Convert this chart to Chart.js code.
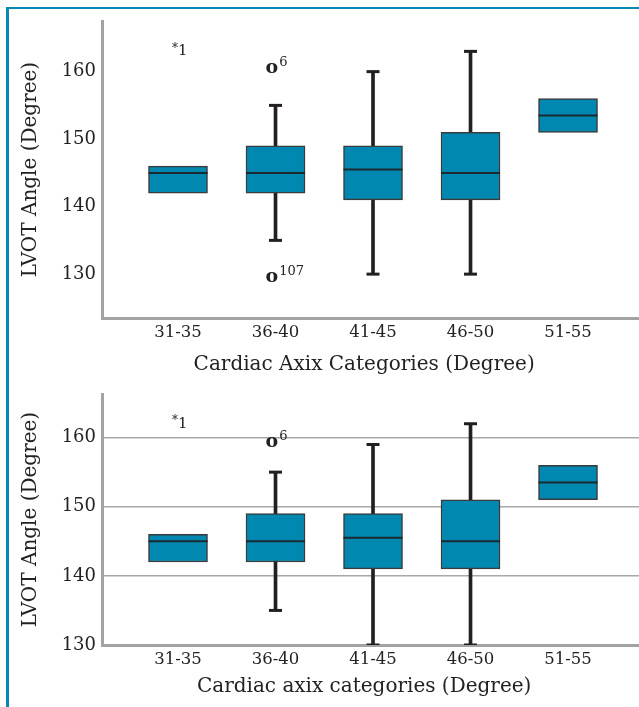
<!DOCTYPE html>
<html>
<head>
<meta charset="utf-8">
<script src="https://cdn.jsdelivr.net/npm/chart.js@4/dist/chart.umd.min.js"></script>
<style>
body{margin:0;background:#fff;width:639px;height:707px;overflow:hidden;position:relative}
#frame{position:absolute;left:6px;top:7px;right:0;bottom:0;border-left:3px solid #0a88b4;border-top:2px solid #0a88b4}
.box{position:absolute;left:0;width:639px}
</style>
</head>
<body>
<div id="frame"></div>
<div class="box" style="top:0;height:375px"><canvas id="c1"></canvas></div>
<div class="box" style="top:375px;height:332px"><canvas id="c2"></canvas></div>
<script>
// cardiac axis groups
var categories = ['31-35', '36-40', '41-45', '46-50', '51-55'];
var q1 = [142, 142, 141, 141, 151];
var median = [145, 145, 145.5, 145, 153.5];
var q3 = [146, 149, 149, 151, 156];
var whiskerLow = [null, 135, 130, 130, null];
var whiskerHigh1 = [null, 155, 160, 163, null];
var whiskerHigh2 = [null, 155, 159, 162, null];
var yTicks = [130, 140, 150, 160];

// labelled outliers (case numbers)
var outlierCat = ['31-35', '36-40', '36-40'];
var outlierValue1 = [163, 160.5, 129.5];
var outlierValue2 = [162, 159.3, 129.5];
var outlierMark = ['*', 'o', 'o'];
var outlierCase = ['1', '6', '107'];

var serif = "'DejaVu Serif', serif";

var outlierPlugin = {
    id: 'outliers',
    afterDatasetsDraw: function(chart, args, opts) {
        var ctx = chart.ctx;
        var xs = chart.scales.x, ys = chart.scales.y;
        var vals = opts.values;
        ctx.save();
        ctx.fillStyle = '#222';
        ctx.textBaseline = 'middle';
        ctx.textAlign = 'left';
        for (var i = 0; i < outlierCat.length; i++) {
            var v = vals[i];
            if (v < ys.min || v > ys.max) continue;
            var x = xs.getPixelForValue(categories.indexOf(outlierCat[i]) + 1) - 10;
            var y = ys.getPixelForValue(v);
            if (outlierMark[i] == 'o') {
                ctx.font = 'bold 19px ' + serif;
                ctx.fillText('o', x, y);
                x += ctx.measureText('o').width + 1;
                ctx.font = '13px ' + serif;
                ctx.fillText(outlierCase[i], x, y - 6);
            } else {
                ctx.font = '12px ' + serif;
                ctx.fillText('*', x + 4, y - 3);
                x += ctx.measureText('*').width + 4;
                ctx.font = '15px ' + serif;
                ctx.fillText(outlierCase[i], x, y);
            }
        }
        ctx.restore();
    }
};

function boxChart(id, whiskerHigh, outVals, yMin, yMax, showGrid, xTitle, padTop, xHeight, xTitlePad) {
    var whiskers = [], caps = [], boxes = [], medians = [];
    for (var i = 0; i < categories.length; i++) {
        boxes.push({x: i + 1, y: [q1[i], q3[i]]});
        medians.push({x: i + 1, y: median[i]});
        if (whiskerLow[i] != null) {
            whiskers.push({x: i + 1, y: [whiskerLow[i], whiskerHigh[i]]});
            caps.push({x: i + 1, y: whiskerLow[i]});
            caps.push({x: i + 1, y: whiskerHigh[i]});
        }
    }
    var ctx = document.getElementById(id).getContext('2d');
    return new Chart(ctx, {
        type: 'bar',
        data: {
            datasets: [
                {
                    data: whiskers,
                    backgroundColor: '#231f20',
                    barThickness: 3,
                    grouped: false,
                    order: 3
                },
                {
                    data: boxes,
                    backgroundColor: '#0088b1',
                    borderColor: '#3b3b3b',
                    borderWidth: 1.5,
                    borderSkipped: false,
                    barThickness: 59,
                    grouped: false,
                    order: 2
                },
                {
                    type: 'scatter',
                    data: caps,
                    pointStyle: 'line',
                    radius: 6.5,
                    borderWidth: 3,
                    borderColor: '#231f20',
                    order: 1
                },
                {
                    type: 'scatter',
                    data: medians,
                    pointStyle: 'line',
                    radius: 29.5,
                    borderWidth: 2,
                    borderColor: '#1b2a31',
                    order: 0
                }
            ]
        },
        options: {
            responsive: true,
            maintainAspectRatio: false,
            animation: false,
            layout: {autoPadding: false, padding: {top: padTop, left: 0, right: 0, bottom: 0}},
            plugins: {
                legend: {display: false},
                tooltip: {enabled: false},
                outliers: {values: outVals}
            },
            scales: {
                x: {
                    type: 'linear',
                    min: 0.2205,
                    max: 5.728,
                    offset: false,
                    afterBuildTicks: function(s) {
                        s.ticks = categories.map(function(c, i) { return {value: i + 1}; });
                    },
                    afterFit: function(s) {
                        s.height = xHeight;
                        s.paddingLeft = 0;
                        s.paddingRight = 0;
                    },
                    grid: {display: false, drawTicks: false},
                    border: {display: true, color: '#a3a3a3', width: 3},
                    ticks: {
                        padding: 5,
                        color: '#222',
                        font: {family: serif, size: 16.5},
                        callback: function(v) { return categories[v - 1]; }
                    },
                    title: {
                        display: true,
                        text: xTitle + '\u00a0\u00a0',
                        color: '#222',
                        font: {family: serif, size: 20, lineHeight: 1},
                        padding: {top: 0, bottom: xTitlePad}
                    }
                },
                y: {
                    min: yMin,
                    max: yMax,
                    afterBuildTicks: function(s) {
                        s.ticks = yTicks.map(function(v) { return {value: v}; });
                    },
                    afterFit: function(s) {
                        s.width = 102;
                        s.paddingTop = 0;
                        s.paddingBottom = 0;
                    },
                    grid: {display: showGrid, drawTicks: false, color: '#a8a8a8', lineWidth: 1.5},
                    border: {display: true, color: '#a3a3a3', width: 3},
                    ticks: {
                        padding: 6,
                        color: '#222',
                        font: {family: serif, size: 18}
                    },
                    title: {
                        display: true,
                        text: 'LVOT Angle (Degree)',
                        color: '#222',
                        font: {family: serif, size: 20},
                        padding: {top: 19, bottom: 0}
                    }
                }
            }
        },
        plugins: [outlierPlugin]
    });
}

boxChart('c1', whiskerHigh1, outlierValue1, 123.5, 167.5, false, 'Cardiac Axix Categories (Degree)', 21, 57, 0);
boxChart('c2', whiskerHigh2, outlierValue2, 130, 166.3, true, 'Cardiac axix categories (Degree)', 19, 62, 10);
</script>
</body>
</html>
